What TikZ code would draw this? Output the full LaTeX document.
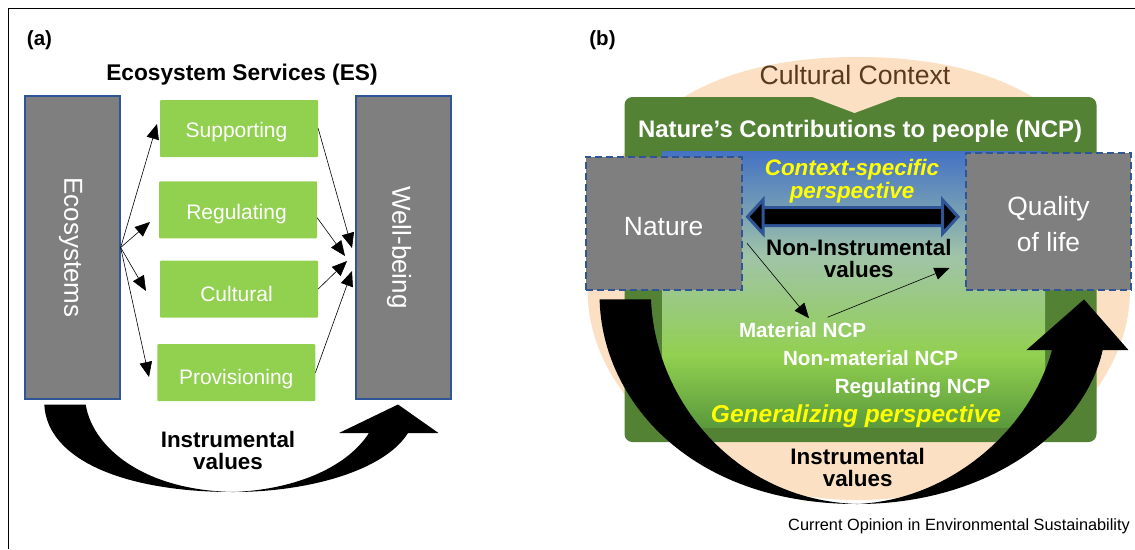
\documentclass[tikz,border=0pt]{standalone}
\usepackage{fontspec}
\setmainfont{Liberation Sans}
\usepackage{graphicx}
\usetikzlibrary{arrows.meta,positioning}

\newcommand{\pxfont}[1]{\fontsize{#1}{#1}\selectfont}
\newcommand{\dropstrut}{\rule{0pt}{25pt}}
\definecolor{panelgrey}{HTML}{7F7F7F}
\definecolor{edgeblue}{HTML}{2F5597}
\definecolor{boxgreen}{HTML}{92D050}
\definecolor{darkgreen}{HTML}{548235}
\definecolor{peach}{HTML}{FBE0C4}
\definecolor{contextbrown}{HTML}{5A3A1E}
\definecolor{perspyellow}{HTML}{FFFF00}
\definecolor{fadeblue}{HTML}{4472C4}
\definecolor{fademid}{HTML}{A0C4A8}
\definecolor{fadegreen}{HTML}{92D050}
\definecolor{fadedark}{HTML}{5A9A3C}
\pgfdeclareverticalshading{ncpfade}{100bp}{color(0bp)=(fadedark); color(25bp)=(fadedark); color(38bp)=(fadegreen); color(56bp)=(fademid); color(67bp)=(fadeblue!60!fademid); color(75bp)=(fadeblue); color(100bp)=(fadeblue)}

\begin{document}
\begin{tikzpicture}[x=1pt,y=-1pt,->,>={Triangle[length=15pt,width=12.5pt]},node distance=82pt]
	\tikzstyle{every edge}=[draw=black,semithick]
	\tikzstyle{greybox}=[rectangle, draw=edgeblue, fill=panelgrey, text=white, line width=1.3pt, minimum width=95pt, minimum height=303pt, inner sep=0pt, font=\pxfont{26}]
	\tikzstyle{dashbox}=[rectangle, draw=edgeblue, fill=panelgrey, text=white, line width=2pt, dash pattern=on 7pt off 4pt, align=center, inner sep=0pt, font=\fontsize{26.4}{36}\selectfont]
	\tikzstyle{greenbox}=[rectangle, rounded corners=1pt, fill=boxgreen, text=white, minimum width=158pt, minimum height=57pt, inner sep=0pt, text height=24pt, text depth=#1, font=\pxfont{21}]
	\tikzstyle{heading}=[inner sep=0pt, align=center, font=\bfseries\fontsize{22.4}{22}\selectfont]
	\tikzstyle{ncplabel}=[inner sep=1pt, text=white, font=\bfseries\pxfont{20.6}]
	\tikzstyle{perspective}=[inner sep=0pt, align=center, text=perspyellow, font=\bfseries\itshape\fontsize{22.4}{23}\selectfont]
	\tikzstyle{bigarrow}=[fill=black]

	\useasboundingbox (0,0) rectangle (1135,549);
	\draw[-,black,line width=1pt] (8,549) -- (8,8.5) -- (1135,8.5);

	% panel a
	\node[inner sep=0pt, font=\bfseries\pxfont{20.5}] (labela) at (39.5,40) {(a)};
	\node[heading, font=\bfseries\pxfont{22.7}] (estitle) at (242,75) {Ecosystem Services (ES)};
	\node[greybox] (ecosystems) at (72.5,247.5) {\rotatebox{-90}{Ecosystems}\kern4pt};
	\node[greybox] (wellbeing) at (403.5,247.5) {\rotatebox{-90}{Well-being}\kern9pt};

	\node[greenbox=7pt] (supporting) at (239,128.5) {Supporting\kern5pt};
	\node[greenbox=4pt] (regulating) [below of=supporting, node distance=81.25pt, xshift=-1pt] {Regulating\kern3pt};
	\node[greenbox=0pt] (cultural) [below of=regulating, node distance=79.25pt, xshift=1pt] {Cultural\kern5pt};
	\node[greenbox=0pt] (provisioning) [below of=cultural, node distance=83.5pt, xshift=-2.75pt] {Provisioning};

	\coordinate (tosupporting) at (157,124);
	\coordinate (toregulating) at (150,222);
	\coordinate (tocultural) at (146,291);
	\coordinate (toprovisioning) at (149,377);
	\coordinate (fromsupporting) at (352,248);
	\coordinate (fromregulating) at (345,256);
	\coordinate (fromcultural) at (347,261);
	\coordinate (fromprovisioning) at (352,271);

	\path (ecosystems.east) edge (tosupporting);
	\path (ecosystems.east) edge (toregulating);
	\path (ecosystems.east) edge (tocultural);
	\path (ecosystems.east) edge (toprovisioning);
	\path (supporting.east) edge (fromsupporting);
	\path ([yshift=-8pt]regulating.east) edge (fromregulating);
	\path (cultural.east) edge (fromcultural);
	\path (provisioning.east) edge (fromprovisioning);

	\fill[bigarrow] (44.3,404.5) .. controls (47,460) and (125,492) .. (233,492)
		.. controls (310,492) and (385,470) .. (408,433) -- (438.5,433) -- (398,404.5) -- (339,433) -- (369,433)
		.. controls (345,470) and (290,490) .. (233,492)
		.. controls (140,490) and (92,445) .. (85.7,404.5) -- cycle;
	\node[heading] (instrumentala) at (228,450.5) {Instrumental\\values};

	% panel b
	\node[inner sep=0pt, font=\bfseries\pxfont{20.5}] (labelb) at (602.5,40) {(b)};
	\fill[peach] (587.5,290) .. controls (587.5,140) and (680,57) .. (858,57) .. controls (1036,57) and (1130,140) .. (1130,290)
		.. controls (1130,400) and (1010,500) .. (858,500) .. controls (706,500) and (587.5,400) .. (587.5,290) -- cycle;
	\fill[darkgreen, rounded corners=8pt] (624.5,97) rectangle (1096.5,442);
	\fill[peach] (811,96.5) -- (854.5,113) -- (899,96.5) -- cycle;
	\fill[shading=ncpfade] (662,151) rectangle (1045,427);
	\node[inner sep=0pt, text=contextbrown, font=\pxfont{26.6}] (context) at (855,75) {Cultural Context};
	\node[inner sep=0pt, text=white, font=\bfseries\pxfont{23.9}] (ncptitle) at (860,131.5) {Nature’s Contributions to people (NCP)};

	\node[dashbox, minimum width=155.8pt, minimum height=133.5pt] (nature) at (663.6,223.25) {\dropstrut Nature};
	\node[dashbox, minimum width=165pt, minimum height=137pt] (quality) at (1048.5,221.5) {\dropstrut Quality\\of life};

	\node[perspective] (contextspecific) at (852,181.5) {Context-specific\\perspective};
	\draw[{Triangle[length=19pt,width=41pt,line width=3pt,fill=black]}-{Triangle[length=19pt,width=41pt,line width=3pt,fill=black]}, draw=edgeblue, line width=3pt, double=black, double distance=15pt, shorten <=3pt, shorten >=5pt] ([yshift=6.5pt]nature.east) -- ([yshift=4.8pt]quality.west);
	\node[heading] (noninstrumental) at (858.8,258.3) {Non-Instrumental\\values};

	\node[ncplabel] (material) at (802.6,330) {Material NCP};
	\node[ncplabel] (nonmaterial) at (870.6,358) {Non-material NCP};
	\node[ncplabel] (regulatingncp) at (912.6,388) {Regulating NCP};
	\node[perspective, font=\bfseries\itshape\pxfont{24.5}] (generalizing) at (856,416) {Generalizing perspective};

	\path ([xshift=4.5pt,yshift=-20pt]nature.east) edge ([xshift=6.4pt,yshift=3pt]material.north);
	\path ([xshift=25pt,yshift=4pt]material.north) edge ([xshift=-15.5pt,yshift=-46.5pt]quality.west);

	\fill[bigarrow] (599.6,299.4) .. controls (602,400) and (690,504) .. (857,504)
		.. controls (990,504) and (1085,430) .. (1102.7,350) -- (1128.4,350) -- (1084,299.4) -- (1026.5,350) -- (1052,350)
		.. controls (1030,430) and (950,500) .. (857,504)
		.. controls (735,500) and (655,400) .. (651,299.4) -- cycle;
	\node[heading] (instrumentalb) at (857.7,467.6) {Instrumental\\values};

	\node[inner sep=0pt, anchor=east, font=\pxfont{16.3}] (credit) at (1130,526.6) {Current Opinion in Environmental Sustainability};
\end{tikzpicture}
\end{document}
